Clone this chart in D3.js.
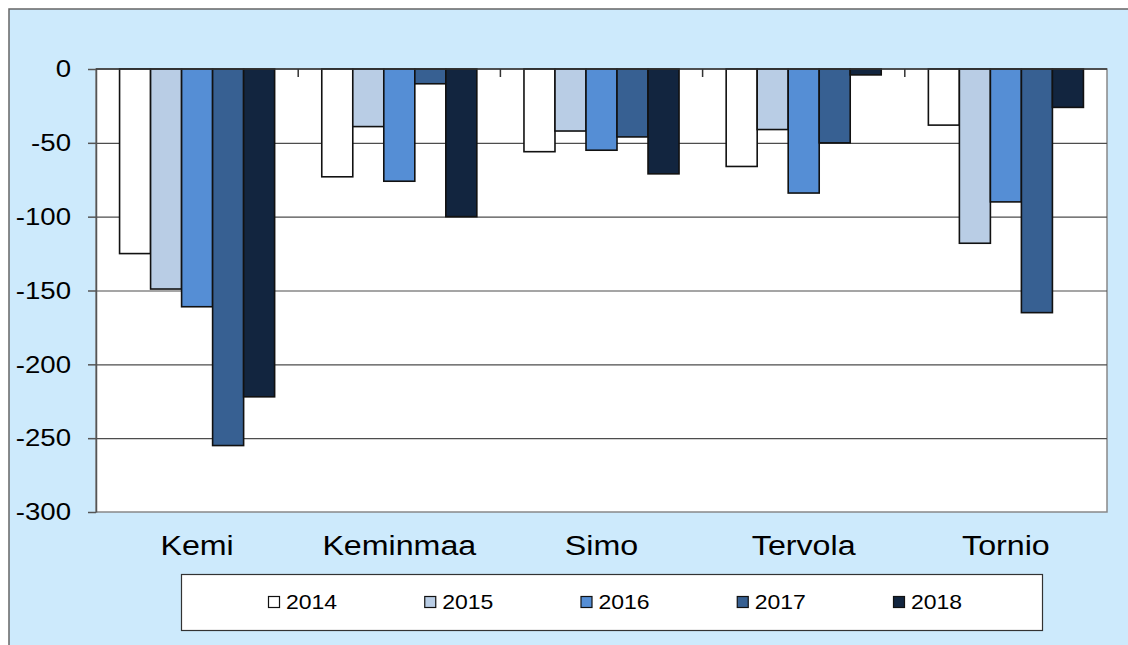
<!DOCTYPE html>
<html>
<head>
<meta charset="utf-8">
<script src="https://cdn.jsdelivr.net/npm/d3@7"></script>
<style>
  body { margin: 0; background: #fff; }
  svg { display: block; font-family: "Liberation Sans", Arial, sans-serif; }
</style>
</head>
<body>
<svg id="chart" width="1128" height="645"></svg>
<script>
// data
var categories = ['Kemi', 'Keminmaa', 'Simo', 'Tervola', 'Tornio'];
var years = ['2014', '2015', '2016', '2017', '2018'];
var v2014 = [-125, -73, -56, -66, -38];
var v2015 = [-149, -39, -42, -41, -118];
var v2016 = [-161, -76, -55, -84, -90];
var v2017 = [-255, -10, -46, -50, -165];
var v2018 = [-222, -100, -71, -4, -26];
var yTicks = [0, -50, -100, -150, -200, -250, -300];
var colors = ['#ffffff', '#b9cde5', '#558ed5', '#376092', '#12253f'];

var series = [v2014, v2015, v2016, v2017, v2018];

// the original picture is a bit stretched sideways, so the text is too
var stretch = 1.15;

var svg = d3.select('#chart');
var plot = { left: 96, right: 1107, top: 69, bottom: 512 };

// chart background
svg.append('rect')
	.attr('x', 9).attr('y', 9)
	.attr('width', 1130).attr('height', 650)
	.attr('fill', '#cdeafc')
	.attr('stroke', '#666').attr('stroke-width', 1.5);

svg.append('rect')
	.attr('x', plot.left).attr('y', plot.top)
	.attr('width', plot.right - plot.left).attr('height', plot.bottom - plot.top)
	.attr('fill', '#fff')
	.attr('stroke', '#888').attr('stroke-width', 1.5);

var y = d3.scaleLinear().domain([-300, 0]).range([plot.bottom, plot.top]);
var x0 = d3.scaleBand().domain(categories).range([plot.left, plot.right]);
var x1 = d3.scaleBand().domain(years)
	.range([0, x0.bandwidth()]).paddingOuter(0.76);

// gridlines
svg.append('g').selectAll('line')
	.data(yTicks.filter(function (t) { return t !== 0 && t !== -300; }))
	.join('line')
	.attr('x1', plot.left).attr('x2', plot.right)
	.attr('y1', function (d) { return y(d) + 0.5; })
	.attr('y2', function (d) { return y(d) + 0.5; })
	.attr('stroke', '#4d4d4d').attr('stroke-width', 1.2);

// y axis
var yAxis = svg.append('g')
	.attr('transform', 'translate(' + plot.left + ',0)')
	.call(d3.axisLeft(y).tickValues(yTicks).tickSize(8).tickPadding(17).tickSizeOuter(0)
		.tickFormat(function (d) { return String(d); }));
yAxis.select('.domain').attr('stroke', '#555').attr('stroke-width', 1.5);
yAxis.selectAll('.tick line').attr('stroke', '#555').attr('stroke-width', 1.5);
yAxis.selectAll('.tick text')
	.attr('font-size', 24).attr('fill', '#000')
	.attr('font-family', '"Liberation Sans", Arial, sans-serif')
	.attr('x', -25 / stretch)
	.attr('transform', 'scale(' + stretch + ',1)');

// bars
var groups = svg.append('g').selectAll('g')
	.data(categories)
	.join('g')
	.attr('transform', function (d) { return 'translate(' + x0(d) + ',0)'; });

groups.selectAll('rect')
	.data(function (d, i) {
		return years.map(function (yr, j) { return { year: yr, value: series[j][i], k: j }; });
	})
	.join('rect')
	.attr('x', function (d) { return x1(d.year); })
	.attr('y', y(0))
	.attr('width', x1.bandwidth())
	.attr('height', function (d) { return y(d.value) - y(0); })
	.attr('fill', function (d) { return colors[d.k]; })
	.attr('stroke', '#111').attr('stroke-width', 1.6);

// zero line on top
svg.append('line')
	.attr('x1', plot.left).attr('x2', plot.right)
	.attr('y1', y(0)).attr('y2', y(0))
	.attr('stroke', '#333').attr('stroke-width', 1.5);

// category ticks hanging from zero line
svg.append('g').selectAll('line')
	.data(categories.slice(1))
	.join('line')
	.attr('x1', function (d) { return x0(d); })
	.attr('x2', function (d) { return x0(d); })
	.attr('y1', y(0)).attr('y2', y(0) + 8)
	.attr('stroke', '#333').attr('stroke-width', 1.5);

// category labels
svg.append('g').selectAll('text')
	.data(categories)
	.join('text')
	.attr('transform', function (d) {
		return 'translate(' + (x0(d) + x0.bandwidth() / 2) + ',555) scale(' + stretch + ',1)';
	})
	.attr('text-anchor', 'middle')
	.attr('font-size', 28)
	.text(function (d) { return d; });

// legend
svg.append('rect')
	.attr('x', 181.5).attr('y', 574.5)
	.attr('width', 861).attr('height', 56)
	.attr('fill', '#fff').attr('stroke', '#333').attr('stroke-width', 1.2);

var legendX = d3.scalePoint().domain(years).range([268, 893]);
var items = svg.append('g').selectAll('g')
	.data(years)
	.join('g')
	.attr('transform', function (d) { return 'translate(' + legendX(d) + ',0)'; });
items.append('rect')
	.attr('x', 0.5).attr('y', 596.5)
	.attr('width', 11).attr('height', 11)
	.attr('fill', function (d, i) { return colors[i]; })
	.attr('stroke', '#111').attr('stroke-width', 1.2);
items.append('text')
	.attr('transform', 'translate(18,609) scale(' + stretch + ',1)')
	.attr('font-size', 20)
	.text(function (d) { return d; });
</script>
</body>
</html>
